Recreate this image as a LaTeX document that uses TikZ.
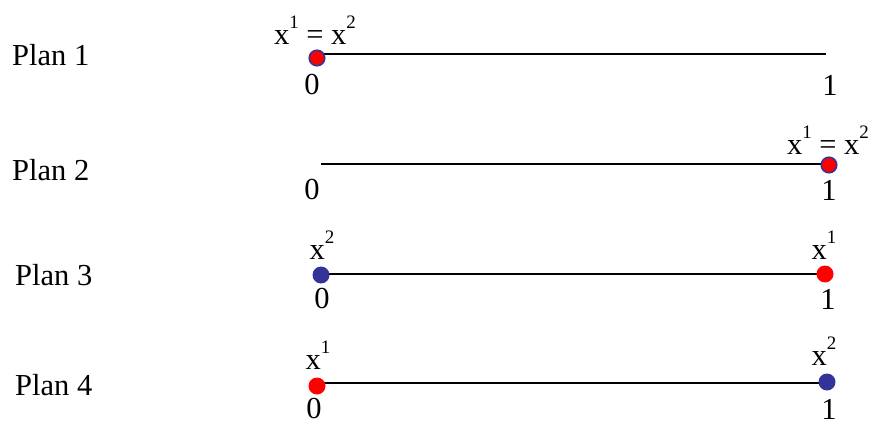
\documentclass[tikz,border=0pt]{standalone}
\usepackage{fontspec}
\setmainfont{Liberation Serif}
\definecolor{dotblue}{RGB}{51,51,153}
\definecolor{dotred}{RGB}{255,0,0}
\newcommand{\myexp}[1]{\raisebox{0.52em}{\fontsize{19}{19}\selectfont #1}}
\begin{document}
\begin{tikzpicture}[x=1pt,y=-1pt,
  lbl/.style={font=\fontsize{30.5}{32}\selectfont, inner sep=0pt},
  num/.style={font=\fontsize{30.5}{32}\selectfont, inner sep=0pt},
  bar/.style={line width=1.4pt, black},
  rdot/.style={circle, fill=dotred, minimum size=17pt, inner sep=0pt},
  bdot/.style={circle, fill=dotblue, minimum size=17pt, inner sep=0pt},
  rbdot/.style={circle, fill=dotred, draw=dotblue, line width=1.6pt, minimum size=15.5pt, inner sep=0pt}]
\useasboundingbox (0,0) rectangle (873,425);
% Plan 1
\node[lbl, anchor=west] (p1) at (12,55) {Plan 1};
\coordinate (a1) at (317,54);
\coordinate (e1) at (826,54);
\draw[bar] (a1) -- (e1);
\node[rbdot] (d1) at (317,58) {};
\node[num] (z1) at (312,85) {0};
\node[num] (o1) at (830,85) {1};
\node[lbl] (t1) at (315,30) {x\myexp{1} = x\myexp{2}};
% Plan 2
\node[lbl, anchor=west] (p2) at (12,170) {Plan 2};
\coordinate (a2) at (321,164);
\coordinate (e2) at (829,164);
\draw[bar] (a2) -- (e2);
\node[rbdot] (d2) at (829,165) {};
\node[num] (z2) at (312,190) {0};
\node[num] (o2) at (829,190) {1};
\node[lbl] (t2) at (828,140) {x\myexp{1} = x\myexp{2}};
% Plan 3
\node[lbl, anchor=west] (p3) at (15,275) {Plan 3};
\coordinate (a3) at (321,274);
\coordinate (e3) at (825,274);
\draw[bar] (a3) -- (e3);
\node[bdot] (b3) at (321,275) {};
\node[rdot] (r3) at (825,274) {};
\node[num] (z3) at (322,299) {0};
\node[num] (o3) at (828,299) {1};
\node[lbl] (t3a) at (322,245) {x\myexp{2}};
\node[lbl] (t3b) at (824,245) {x\myexp{1}};
% Plan 4
\node[lbl, anchor=west] (p4) at (15,385) {Plan 4};
\coordinate (a4) at (317,383);
\coordinate (e4) at (827,383);
\draw[bar] (a4) -- (e4);
\node[rdot] (r4) at (317,386) {};
\node[bdot] (b4) at (827,382) {};
\node[num] (z4) at (314,409) {0};
\node[num] (o4) at (829,409) {1};
\node[lbl] (t4a) at (318,355) {x\myexp{1}};
\node[lbl] (t4b) at (824,351) {x\myexp{2}};
\end{tikzpicture}
\end{document}
